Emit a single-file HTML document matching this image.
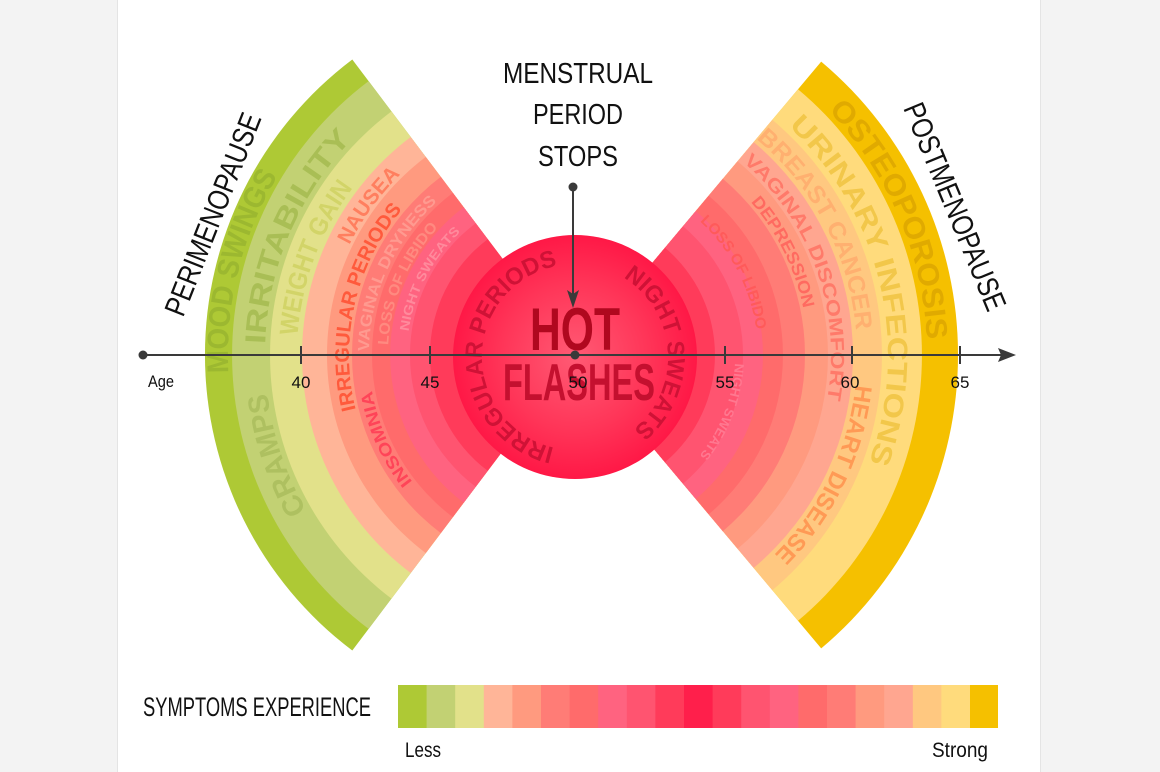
<!DOCTYPE html>
<html><head><meta charset="utf-8"><style>
html,body{margin:0;padding:0;background:#f3f3f3;}
svg{display:block;}
text{font-family:"Liberation Sans Narrow","Liberation Sans",sans-serif;}
</style></head><body>
<svg width="1160" height="772" viewBox="0 0 1160 772" xmlns="http://www.w3.org/2000/svg">
<defs>
<radialGradient id="cg" cx="50%" cy="50%" r="50%">
<stop offset="0" stop-color="#ff5a74"/><stop offset="0.6" stop-color="#ff3558"/><stop offset="1" stop-color="#ff1846"/>
</radialGradient>
<path id="L347" d="M376.0,639.3 A347 347 0 0 1 376.0,70.7"/>
<path id="L310" d="M397.2,609.0 A310 310 0 0 1 397.2,101.0"/>
<path id="L278" d="M415.5,582.7 A278 278 0 0 1 415.5,127.3"/>
<path id="L251" d="M431.0,560.6 A251 251 0 0 1 431.0,149.4"/>
<path id="L226" d="M445.4,540.1 A226 226 0 0 1 445.4,169.9"/>
<path id="L206" d="M456.8,523.8 A206 206 0 0 1 456.8,186.2"/>
<path id="L187" d="M467.7,508.2 A187 187 0 0 1 467.7,201.8"/>
<path id="L168" d="M478.6,492.6 A168 168 0 0 1 478.6,217.4"/>
<path id="R352" d="M776.9,66.6 A352 352 0 0 1 776.9,643.4"/>
<path id="R313" d="M754.5,98.6 A313 313 0 0 1 754.5,611.4"/>
<path id="R282" d="M736.8,124.0 A282 282 0 0 1 736.8,586.0"/>
<path id="R256" d="M721.8,145.3 A256 256 0 0 1 721.8,564.7"/>
<path id="R233" d="M708.6,164.1 A233 233 0 0 1 708.6,545.9"/>
<path id="R183" d="M680.0,205.1 A183 183 0 0 1 680.0,504.9"/>
<path id="R160" d="M666.8,223.9 A160 160 0 0 1 666.8,486.1"/>
<path id="CL" d="M575,450 A93 93 0 0 1 575,264"/>
<path id="CR" d="M575,264 A93 93 0 0 1 575,450"/>
</defs>
<rect x="118" y="0" width="922" height="772" fill="#ffffff"/>
<rect x="117" y="0" width="1" height="772" fill="#e4e4e4"/>
<rect x="1040" y="0" width="1" height="772" fill="#e4e4e4"/>

<!-- left fan -->
<g>
<path d="M575,355 L352.3,650.5 A370 370 0 0 1 352.3,59.5 Z" fill="#aec935"/>
<path d="M575,355 L368.6,628.9 A343 343 0 0 1 368.6,81.1 Z" fill="#c2d173"/>
<path d="M575,355 L391.5,598.6 A305 305 0 0 1 391.5,111.4 Z" fill="#e2e18a"/>
<path d="M575,355 L410.7,573.0 A273 273 0 0 1 410.7,137.0 Z" fill="#ffb598"/>
<path d="M575,355 L425.8,553.1 A248 248 0 0 1 425.8,156.9 Z" fill="#ff9a7f"/>
<path d="M575,355 L440.8,533.1 A223 223 0 0 1 440.8,176.9 Z" fill="#ff7c76"/>
<path d="M575,355 L452.8,517.1 A203 203 0 0 1 452.8,192.9 Z" fill="#ff6b6b"/>
<path d="M575,355 L463.7,502.7 A185 185 0 0 1 463.7,207.3 Z" fill="#ff6380"/>
<path d="M575,355 L475.7,486.8 A165 165 0 0 1 475.7,223.2 Z" fill="#ff5470"/>
<path d="M575,355 L487.7,470.8 A145 145 0 0 1 487.7,239.2 Z" fill="#ff3b5a"/>
</g>
<!-- right fan -->
<g>
<path d="M575,355 L821.2,61.6 A383 383 0 0 1 821.2,648.4 Z" fill="#f5c000"/>
<path d="M575,355 L798.0,89.2 A347 347 0 0 1 798.0,620.8 Z" fill="#ffdb7c"/>
<path d="M575,355 L772.3,119.8 A307 307 0 0 1 772.3,590.2 Z" fill="#ffc880"/>
<path d="M575,355 L753.7,142.1 A278 278 0 0 1 753.7,567.9 Z" fill="#ffa690"/>
<path d="M575,355 L737.6,161.2 A253 253 0 0 1 737.6,548.8 Z" fill="#ff9a7f"/>
<path d="M575,355 L722.8,178.8 A230 230 0 0 1 722.8,531.2 Z" fill="#ff7c76"/>
<path d="M575,355 L708.7,195.7 A208 208 0 0 1 708.7,514.3 Z" fill="#ff6b6b"/>
<path d="M575,355 L695.8,211.0 A188 188 0 0 1 695.8,499.0 Z" fill="#ff6380"/>
<path d="M575,355 L683.0,226.3 A168 168 0 0 1 683.0,483.7 Z" fill="#ff5470"/>
<path d="M575,355 L665.0,247.8 A140 140 0 0 1 665.0,462.2 Z" fill="#ff3b5a"/>
</g>
<circle cx="575" cy="357" r="122" fill="url(#cg)"/>

<g font-weight="bold">
<text font-size="30" fill="#9cb830"><textPath href="#L347" startOffset="47.3%" textLength="206" lengthAdjust="spacingAndGlyphs">MOOD SWINGS</textPath></text>
<text font-size="29" fill="#aec060"><textPath href="#L310" startOffset="22.7%" textLength="124.4" lengthAdjust="spacingAndGlyphs">CRAMPS</textPath></text>
<text font-size="29" fill="#a9be55"><textPath href="#L310" startOffset="51.8%" textLength="227.2" lengthAdjust="spacingAndGlyphs">IRRITABILITY</textPath></text>
<text font-size="26" fill="#d2d468"><textPath href="#L278" startOffset="53.6%" textLength="160.1" lengthAdjust="spacingAndGlyphs">WEIGHT GAIN</textPath></text>
<text font-size="21" fill="#ff7f5f"><textPath href="#L251" startOffset="73.6%" textLength="87.6" lengthAdjust="spacingAndGlyphs">NAUSEA</textPath></text>
<text font-size="20" fill="#ff5a3c"><textPath href="#L226" startOffset="37.3%" textLength="213" lengthAdjust="spacingAndGlyphs">IRREGULAR PERIODS</textPath></text>
<text font-size="16" fill="#ff9a90"><textPath href="#L206" startOffset="50.9%" textLength="169" lengthAdjust="spacingAndGlyphs">VAGINAL DRYNESS</textPath></text>
<text font-size="17" fill="#ff4458"><textPath href="#L206" startOffset="15.5%" textLength="100.7" lengthAdjust="spacingAndGlyphs">INSOMNIA</textPath></text>
<text font-size="15" fill="#ff8a80"><textPath href="#L187" startOffset="52.7%" textLength="130.5" lengthAdjust="spacingAndGlyphs">LOSS OF LIBIDO</textPath></text>
<text font-size="13" fill="#ff8a9c"><textPath href="#L168" startOffset="57.3%" textLength="114.4" lengthAdjust="spacingAndGlyphs">NIGHT SWEATS</textPath></text>

<text font-size="30" fill="#e0aa00"><textPath href="#R352" startOffset="10%" textLength="255" lengthAdjust="spacingAndGlyphs">OSTEOPOROSIS</textPath></text>
<text font-size="28" fill="#f2c74a"><textPath href="#R313" startOffset="7.3%" textLength="366" lengthAdjust="spacingAndGlyphs">URINARY INFECTIONS</textPath></text>
<text font-size="24" fill="#ffb070"><textPath href="#R282" startOffset="4.5%" textLength="221.5" lengthAdjust="spacingAndGlyphs">BREAST CANCER</textPath></text>
<text font-size="24" fill="#ff9a55"><textPath href="#R282" startOffset="55.5%" textLength="191.9" lengthAdjust="spacingAndGlyphs">HEART DISEASE</textPath></text>
<text font-size="19" fill="#ff7a6a"><textPath href="#R256" startOffset="5.5%" textLength="263.6" lengthAdjust="spacingAndGlyphs">VAGINAL DISCOMFORT</textPath></text>
<text font-size="17" fill="#ff6a60"><textPath href="#R233" startOffset="12.7%" textLength="120" lengthAdjust="spacingAndGlyphs">DEPRESSION</textPath></text>
<text font-size="15" fill="#ff5a5a"><textPath href="#R183" startOffset="7.3%" textLength="124.6" lengthAdjust="spacingAndGlyphs">LOSS OF LIBIDO</textPath></text>
<text font-size="13" fill="#ff7890"><textPath href="#R160" startOffset="52.7%" textLength="100.5" lengthAdjust="spacingAndGlyphs">NIGHT SWEATS</textPath></text>

<text font-size="24" fill="#cf1236"><textPath href="#CL" startOffset="7.2%" textLength="253" lengthAdjust="spacingAndGlyphs">IRREGULAR PERIODS</textPath></text>
<text font-size="24" fill="#cf1236"><textPath href="#CR" startOffset="17.4%" textLength="178" lengthAdjust="spacingAndGlyphs">NIGHT SWEATS</textPath></text>

<text x="530" y="350" font-size="60" fill="#b0081f" textLength="90" lengthAdjust="spacingAndGlyphs">HOT</text>
<text x="503" y="400" font-size="52" fill="#c4102f" textLength="152" lengthAdjust="spacingAndGlyphs">FLASHES</text>
</g>

<!-- axis -->
<g stroke="#3a3a3a" stroke-width="2" fill="none">
<line x1="143" y1="355" x2="1003" y2="355"/>
<line x1="301" y1="346" x2="301" y2="364"/>
<line x1="430" y1="346" x2="430" y2="364"/>
<line x1="725" y1="346" x2="725" y2="364"/>
<line x1="852" y1="346" x2="852" y2="364"/>
<line x1="960" y1="346" x2="960" y2="364"/>
<line x1="573" y1="187" x2="573" y2="296"/>
</g>
<polygon points="1016,355 998,348 1001,355 998,362" fill="#3a3a3a"/>
<polygon points="573,308 567,290 573,294 579,290" fill="#3a3a3a"/>
<circle cx="143" cy="355" r="4.5" fill="#3a3a3a"/>
<circle cx="575" cy="355" r="4.5" fill="#3a3a3a"/>
<circle cx="573" cy="187" r="4.5" fill="#3a3a3a"/>

<g font-size="17" fill="#111" text-anchor="middle">
<text x="161" y="387" textLength="26" lengthAdjust="spacingAndGlyphs">Age</text>
<text x="301" y="388">40</text>
<text x="430" y="388">45</text>
<text x="578" y="388">50</text>
<text x="725" y="388">55</text>
<text x="850" y="388">60</text>
<text x="960" y="388">65</text>
</g>

<g font-size="29" fill="#111" text-anchor="middle">
<text x="578" y="83" textLength="150" lengthAdjust="spacingAndGlyphs">MENSTRUAL</text>
<text x="578" y="124" textLength="90" lengthAdjust="spacingAndGlyphs">PERIOD</text>
<text x="578" y="166" textLength="80" lengthAdjust="spacingAndGlyphs">STOPS</text>
</g>
<text transform="translate(183,318) rotate(-68.5)" font-size="30" fill="#111" textLength="215" lengthAdjust="spacingAndGlyphs">PERIMENOPAUSE</text>
<text transform="translate(903,108) rotate(67.5)" font-size="30" fill="#111" textLength="222" lengthAdjust="spacingAndGlyphs">POSTMENOPAUSE</text>

<!-- legend -->
<text x="143" y="716" font-size="27" fill="#111" textLength="228" lengthAdjust="spacingAndGlyphs">SYMPTOMS EXPERIENCE</text>
<g>
<rect x="398" y="685" width="29" height="43" fill="#aec935"/>
<rect x="426.6" y="685" width="29" height="43" fill="#c2d173"/>
<rect x="455.2" y="685" width="29" height="43" fill="#e2e18a"/>
<rect x="483.8" y="685" width="29" height="43" fill="#ffb598"/>
<rect x="512.4" y="685" width="29" height="43" fill="#ff9a7f"/>
<rect x="541" y="685" width="29" height="43" fill="#ff7c76"/>
<rect x="569.6" y="685" width="29" height="43" fill="#ff6b6b"/>
<rect x="598.2" y="685" width="29" height="43" fill="#ff6380"/>
<rect x="626.8" y="685" width="29" height="43" fill="#ff5470"/>
<rect x="655.4" y="685" width="29" height="43" fill="#ff3b5a"/>
<rect x="684" y="685" width="29" height="43" fill="#ff1f4b"/>
<rect x="712.6" y="685" width="29" height="43" fill="#ff3b5a"/>
<rect x="741.2" y="685" width="29" height="43" fill="#ff5470"/>
<rect x="769.8" y="685" width="29" height="43" fill="#ff6380"/>
<rect x="798.4" y="685" width="29" height="43" fill="#ff6b6b"/>
<rect x="827" y="685" width="29" height="43" fill="#ff7c76"/>
<rect x="855.6" y="685" width="29" height="43" fill="#ff9a7f"/>
<rect x="884.2" y="685" width="29" height="43" fill="#ffa690"/>
<rect x="912.8" y="685" width="29" height="43" fill="#ffc880"/>
<rect x="941.4" y="685" width="29" height="43" fill="#ffdb7c"/>
<rect x="970" y="685" width="28" height="43" fill="#f5c000"/>
</g>
<text x="405" y="757" font-size="21" fill="#111" textLength="36" lengthAdjust="spacingAndGlyphs">Less</text>
<text x="932" y="757" font-size="21" fill="#111" textLength="56" lengthAdjust="spacingAndGlyphs">Strong</text>
</svg>
</body></html>
